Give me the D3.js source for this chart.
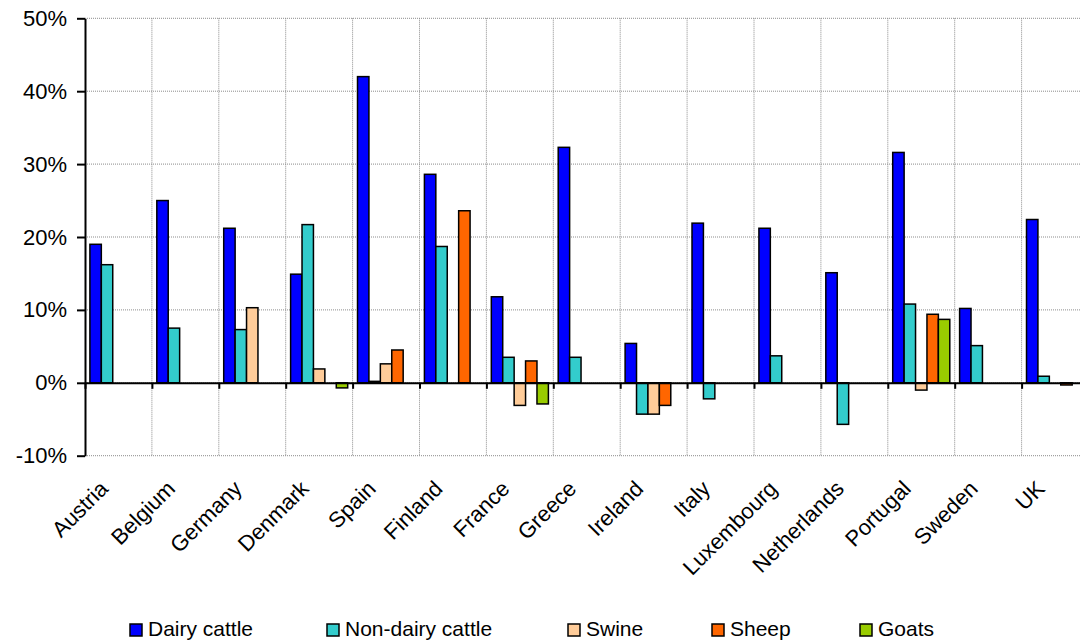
<!DOCTYPE html>
<html><head><meta charset="utf-8">
<script src="https://cdn.jsdelivr.net/npm/d3@7/dist/d3.min.js"></script>
<style>body{margin:0;background:#fff}svg{display:block}text{font-family:"Liberation Sans",Arial,sans-serif;fill:#000}</style>
</head><body><svg id="c" width="1080" height="641"></svg>
<script>
const categories = ["Austria","Belgium","Germany","Denmark","Spain","Finland","France","Greece","Ireland","Italy","Luxembourg","Netherlands","Portugal","Sweden","UK"];
const seriesNames = ["Dairy cattle","Non-dairy cattle","Swine","Sheep","Goats"];
const seriesColors = ["#0000FF","#33CCCC","#FFCC99","#FF6600","#99CC00"];
const dairyCattle    = [19.0, 25.0, 21.2, 14.9, 42.0, 28.6, 11.8, 32.3, 5.4, 21.9, 21.2, 15.1, 31.6, 10.2, 22.4];
const nonDairyCattle = [16.2, 7.5, 7.3, 21.7, 0.2, 18.7, 3.5, 3.5, -4.3, -2.2, 3.7, -5.7, 10.8, 5.1, 0.9];
const swine          = [null, null, 10.3, 1.9, 2.6, null, -3.1, null, -4.3, null, null, null, -1.0, null, null];
const sheep          = [null, null, null, null, 4.5, 23.6, 3.0, null, -3.1, null, null, null, 9.4, null, -0.3];
const goats          = [null, null, null, -0.7, null, null, -2.9, null, null, null, null, null, 8.7, null, null];
const yTicks = [-10, 0, 10, 20, 30, 40, 50];

const seriesValues = [dairyCattle, nonDairyCattle, swine, sheep, goats];
const svg = d3.select("#c");
const mLeft = 85, mRight = 1088.5, mTop = 18.3, mBottom = 455.7;

const x = d3.scaleBand().domain(categories).range([mLeft, mRight]).padding(0);
const x1 = d3.scaleBand().domain(seriesNames).range([0, x.bandwidth()]).paddingInner(0).paddingOuter(0.43);
const y = d3.scaleLinear().domain([-10, 50]).range([mBottom, mTop]);

// gridlines
const g = svg.append("g");
g.selectAll("line.h").data(yTicks).join("line")
  .attr("x1", mLeft).attr("x2", mRight).attr("y1", d => y(d)).attr("y2", d => y(d))
  .attr("stroke", "#8c8c8c").attr("stroke-width", 1).attr("stroke-dasharray", "1,1");
g.selectAll("line.v").data(d3.range(1, categories.length + 1)).join("line")
  .attr("x1", i => mLeft + i*x.step()).attr("x2", i => mLeft + i*x.step())
  .attr("y1", mTop).attr("y2", mBottom)
  .attr("stroke", "#8c8c8c").attr("stroke-width", 1).attr("stroke-dasharray", "1,1");

// bars
const bars = [];
categories.forEach((c, ci) => {
  seriesNames.forEach((s, si) => {
    const v = seriesValues[si][ci];
    if (v !== null && v !== undefined) bars.push({c, s, v, color: seriesColors[si]});
  });
});
svg.append("g").selectAll("rect").data(bars).join("rect")
  .attr("x", d => x(d.c) + x1(d.s))
  .attr("width", x1.bandwidth())
  .attr("y", d => Math.min(y(d.v), y(0)))
  .attr("height", d => Math.max(Math.abs(y(d.v) - y(0)), 0.5))
  .attr("fill", d => d.color)
  .attr("stroke", "#000").attr("stroke-width", 1.5);

// zero line with ticks
const xAxis = d3.axisBottom(d3.scaleLinear().domain([0, categories.length]).range([mLeft, mRight]))
  .tickValues(d3.range(0, categories.length + 1)).tickSize(6).tickSizeOuter(0).tickFormat("");
const xa = svg.append("g").attr("transform", `translate(0,${y(0)})`).call(xAxis);
xa.select(".domain").attr("stroke", "#000").attr("stroke-width", 2);
xa.selectAll(".tick line").attr("stroke", "#000").attr("stroke-width", 2);

// y axis
const yAxis = d3.axisLeft(y).tickValues(yTicks).tickSize(8).tickSizeOuter(0).tickPadding(10).tickFormat(d => d + "%");
const ya = svg.append("g").attr("transform", `translate(${mLeft},0)`).call(yAxis);
ya.select(".domain").attr("stroke", "#000").attr("stroke-width", 2);
ya.selectAll(".tick line").attr("stroke", "#000").attr("stroke-width", 2);
ya.selectAll(".tick text").attr("font-size", 22).attr("font-family", "Liberation Sans, Arial, sans-serif").attr("fill", "#000");

// category labels
svg.append("g").selectAll("text").data(categories).join("text")
  .attr("transform", d => `translate(${x(d) + x.bandwidth()/2 - 9},${490}) rotate(-45)`)
  .attr("text-anchor", "end")
  .attr("font-size", 22)
  .text(d => d);

// legend
const legendX = [130, 327, 568, 712, 860];
const lg = svg.append("g");
seriesNames.forEach((s, i) => {
  lg.append("rect").attr("x", legendX[i]).attr("y", 624).attr("width", 12).attr("height", 12)
    .attr("fill", seriesColors[i]).attr("stroke", "#000").attr("stroke-width", 1.5);
  lg.append("text").attr("x", legendX[i] + 18).attr("y", 636).attr("font-size", 21).text(s);
});
</script></body></html>
